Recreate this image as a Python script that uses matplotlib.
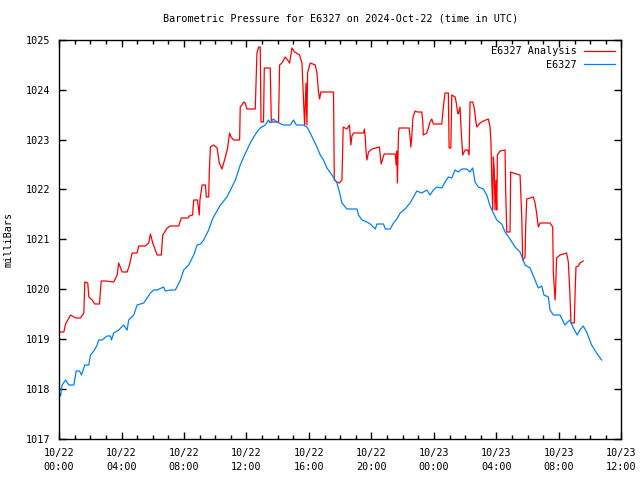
import matplotlib
matplotlib.use("Agg")
import matplotlib.pyplot as plt
from matplotlib.ticker import MultipleLocator

plt.rcParams['font.family'] = ['DejaVu Sans Mono']

title = "Barometric Pressure for E6327 on 2024-Oct-22 (time in UTC)"
ylabel = "milliBars"
xtick_hours = [0, 4, 8, 12, 16, 20, 24, 28, 32, 36]
xtick_labels = ["10/22\n00:00", "10/22\n04:00", "10/22\n08:00", "10/22\n12:00",
                "10/22\n16:00", "10/22\n20:00", "10/23\n00:00", "10/23\n04:00",
                "10/23\n08:00", "10/23\n12:00"]
yticks = [1017, 1018, 1019, 1020, 1021, 1022, 1023, 1024, 1025]

# hours since 2024-10-22 00:00 UTC, pressure in mbar
station_t = [0, 0.1, 0.2, 0.42, 0.63, 0.95, 1.1, 1.31, 1.44, 1.65, 1.91, 2.01, 2.23, 2.44,
             2.54, 2.76, 3.08, 3.29, 3.36, 3.5, 3.82, 4.14, 4.36, 4.46, 4.78, 5.0, 5.42,
             5.64, 5.85, 6.06, 6.28, 6.7, 6.8, 7.13, 7.45, 7.77, 7.98, 8.3, 8.62, 8.84,
             9.05, 9.26, 9.58, 9.8, 9.96, 10.33, 10.75, 11.07, 11.29, 11.6, 11.82, 12.03,
             12.24, 12.46, 12.67, 12.88, 13.2, 13.41, 13.52, 13.71, 13.95, 14.37, 14.8,
             15.01, 15.19, 15.65, 15.87, 16.08, 16.29, 16.51, 16.72, 16.93, 17.15, 17.47,
             17.79, 17.95, 18.11, 18.43, 19.07, 19.17, 19.39, 19.71, 19.92, 20.24, 20.35,
             20.77, 20.88, 21.2, 21.41, 21.62, 21.84, 22.15, 22.47, 22.69, 22.9, 23.22,
             23.54, 23.75, 23.96, 24.18, 24.5, 24.71, 24.92, 25.14, 25.35, 25.56, 25.78,
             26.1, 26.31, 26.48, 26.63, 26.84, 27.16, 27.38, 27.59, 27.8, 28.02, 28.34,
             28.55, 28.87, 29.19, 29.51, 29.83, 30.15, 30.47, 30.68, 30.9, 31.04, 31.32,
             31.43, 31.64, 32.07, 32.38, 32.7, 32.92, 33.17, 33.34, 33.55, 33.77, 34.09,
             34.41, 34.73]
station_p = [1017.95, 1017.87, 1018.09, 1018.19, 1018.09, 1018.09, 1018.37, 1018.37,
             1018.29, 1018.49, 1018.49, 1018.69, 1018.77, 1018.89, 1018.99, 1018.99,
             1019.07, 1019.07, 1018.99, 1019.13, 1019.19, 1019.29, 1019.19, 1019.39,
             1019.49, 1019.69, 1019.73, 1019.83, 1019.93, 1019.99, 1019.99, 1020.05,
             1019.97, 1019.99, 1019.99, 1020.19, 1020.39, 1020.49, 1020.69, 1020.89,
             1020.91, 1020.99, 1021.19, 1021.39, 1021.49, 1021.69, 1021.85, 1022.05,
             1022.19, 1022.49, 1022.65, 1022.79, 1022.93, 1023.05, 1023.15, 1023.23,
             1023.29, 1023.39, 1023.33, 1023.41, 1023.35, 1023.29, 1023.29, 1023.39,
             1023.29, 1023.29, 1023.25, 1023.13, 1022.99, 1022.85, 1022.69, 1022.59,
             1022.43, 1022.29, 1022.13, 1021.95, 1021.73, 1021.61, 1021.61, 1021.49,
             1021.39, 1021.35, 1021.31, 1021.21, 1021.31, 1021.31, 1021.21, 1021.21,
             1021.33, 1021.41, 1021.53, 1021.61, 1021.73, 1021.85, 1021.97, 1021.93,
             1021.99, 1021.89, 1021.99, 1022.05, 1022.03, 1022.15, 1022.25, 1022.23,
             1022.39, 1022.35, 1022.41, 1022.41, 1022.35, 1022.43, 1022.15, 1022.05,
             1022.01, 1021.89, 1021.67, 1021.53, 1021.39, 1021.31, 1021.15, 1021.01,
             1020.85, 1020.75, 1020.49, 1020.43, 1020.19, 1020.03, 1020.07, 1019.89,
             1019.85, 1019.59, 1019.49, 1019.49, 1019.29, 1019.39, 1019.23, 1019.09,
             1019.19, 1019.27, 1019.15, 1018.89, 1018.73, 1018.59]

analysis_t = [0, 0.31, 0.42, 0.63, 0.74, 0.95, 1.1, 1.37, 1.59, 1.65, 1.84, 1.91, 2.12,
              2.29, 2.59, 2.7, 2.97, 3.5, 3.72, 3.82, 4.04, 4.36, 4.51, 4.68, 5.0, 5.1,
              5.53, 5.74, 5.85, 6.0, 6.28, 6.55, 6.64, 6.92, 7.13, 7.66, 7.83, 8.26, 8.34,
              8.55, 8.62, 8.86, 8.98, 9.02, 9.16, 9.37, 9.43, 9.58, 9.62, 9.69, 9.9, 10.12,
              10.26, 10.43, 10.54, 10.65, 10.79, 10.92, 11.01, 11.18, 11.56, 11.6, 11.71,
              11.82, 11.92, 12.03, 12.56, 12.61, 12.67, 12.78, 12.88, 12.93, 13.09, 13.14,
              13.52, 13.59, 14.05, 14.12, 14.27, 14.48, 14.63, 14.76, 14.91, 15.08, 15.4,
              15.55, 15.65, 15.72, 15.81, 15.87, 15.91, 16.08, 16.4, 16.51, 16.61, 16.68,
              16.76, 17.57, 17.62, 17.79, 17.95, 18.11, 18.15, 18.19, 18.43, 18.59, 18.68,
              18.75, 18.85, 19.49, 19.55, 19.6, 19.66, 19.71, 19.81, 20.03, 20.51, 20.56,
              20.62, 20.73, 20.81, 21.52, 21.58, 21.62, 21.66, 21.73, 21.77, 22.41, 22.47,
              22.52, 22.58, 22.65, 22.79, 22.94, 23.22, 23.29, 23.32, 23.54, 23.64, 23.75,
              23.86, 23.96, 24.5, 24.6, 24.71, 24.92, 24.97, 25.08, 25.14, 25.35, 25.42,
              25.52, 25.56, 25.67, 25.74, 25.84, 25.99, 26.16, 26.25, 26.31, 26.48, 26.58,
              26.67, 26.74, 26.95, 27.16, 27.48, 27.59, 27.65, 27.7, 27.76, 27.8, 27.86,
              27.91, 27.97, 28.02, 28.06, 28.23, 28.55, 28.59, 28.66, 28.87, 28.91, 29.08,
              29.3, 29.51, 29.62, 29.68, 29.83, 29.87, 29.94, 30.15, 30.36, 30.47, 30.57,
              30.68, 30.79, 31.43, 31.6, 31.64, 31.75, 31.79, 31.85, 32.07, 32.49, 32.6,
              32.7, 32.77, 32.98, 33.03, 33.09, 33.24, 33.34, 33.55]
analysis_p = [1019.15, 1019.15, 1019.31, 1019.43, 1019.49, 1019.45, 1019.43, 1019.43,
              1019.53, 1020.15, 1020.13, 1019.85, 1019.79, 1019.71, 1019.71, 1020.17,
              1020.17, 1020.15, 1020.29, 1020.53, 1020.35, 1020.35, 1020.49, 1020.73,
              1020.73, 1020.87, 1020.87, 1020.93, 1021.11, 1020.93, 1020.69, 1020.69,
              1021.09, 1021.23, 1021.27, 1021.27, 1021.43, 1021.43, 1021.47, 1021.49,
              1021.79, 1021.79, 1021.49, 1021.79, 1022.09, 1022.09, 1021.85, 1021.85,
              1022.35, 1022.85, 1022.89, 1022.83, 1022.53, 1022.41, 1022.53, 1022.65,
              1022.83, 1023.13, 1023.05, 1022.99, 1022.99, 1023.65, 1023.69, 1023.75,
              1023.73, 1023.61, 1023.61, 1024.15, 1024.73, 1024.85, 1024.85, 1023.35,
              1023.35, 1024.43, 1024.43, 1023.35, 1023.35, 1024.49, 1024.53, 1024.65,
              1024.59, 1024.53, 1024.83, 1024.75, 1024.69, 1024.53, 1023.79, 1023.29,
              1024.13, 1023.29, 1024.33, 1024.53, 1024.49, 1024.33, 1023.95, 1023.81,
              1023.95, 1023.95, 1022.19, 1022.15, 1022.13, 1022.19, 1022.73, 1023.25,
              1023.21, 1023.29, 1022.89, 1023.07, 1023.13, 1023.13, 1023.21, 1023.05,
              1022.73, 1022.59, 1022.75, 1022.81, 1022.85, 1022.69, 1022.51, 1022.63,
              1022.71, 1022.71, 1022.49, 1022.77, 1022.13, 1023.13, 1023.23, 1023.23,
              1023.05, 1022.85, 1023.05, 1023.43, 1023.57, 1023.55, 1023.55, 1023.33,
              1023.09, 1023.13, 1023.23, 1023.35, 1023.41, 1023.31, 1023.31, 1023.65,
              1023.93, 1023.93, 1022.83, 1022.83, 1023.89, 1023.85, 1023.75, 1023.53,
              1023.51, 1023.65, 1023.19, 1022.69, 1022.79, 1022.79, 1022.69, 1023.75,
              1023.75, 1023.63, 1023.39, 1023.25, 1023.33, 1023.37, 1023.41, 1023.25,
              1022.93, 1022.19, 1021.59, 1022.65, 1022.39, 1021.59, 1022.19, 1021.59,
              1022.69, 1022.77, 1022.79, 1021.99, 1021.15, 1021.15, 1022.35, 1022.33,
              1022.31, 1022.29, 1021.45, 1020.59, 1020.65, 1021.25, 1021.81, 1021.83,
              1021.85, 1021.73, 1021.53, 1021.25, 1021.33, 1021.33, 1021.25, 1020.35,
              1019.79, 1020.05, 1020.63, 1020.69, 1020.73, 1020.55, 1019.93, 1019.33,
              1019.33, 1019.89, 1020.45, 1020.47, 1020.53, 1020.57]

fig = plt.figure(figsize=(6.4, 4.8), dpi=100)
ax = fig.add_axes([0.0922, 0.0844, 0.8788, 0.8333])

ax.plot(analysis_t, analysis_p, color='#ff0000', lw=0.9, label='E6327 Analysis')
ax.plot(station_t, station_p, color='#0080ff', lw=0.9, label='E6327')

ax.set_xlim(0, 36)
ax.set_ylim(1017, 1025)
ax.set_xticks(xtick_hours)
ax.set_xticklabels(xtick_labels, fontsize=7.3, linespacing=1.55)
ax.xaxis.set_minor_locator(MultipleLocator(1))
ax.set_yticks(yticks)
ax.set_yticklabels([str(v) for v in yticks], fontsize=7.3)
ax.tick_params(axis='both', which='major', direction='in', length=5, width=1,
               top=True, right=True, pad=6)
ax.tick_params(axis='x', which='minor', direction='in', length=3, width=1,
               top=True, bottom=True)
for s in ax.spines.values():
    s.set_linewidth(1)

ax.set_title(title, fontsize=7.3, pad=13)
ax.set_ylabel(ylabel, fontsize=7.3, labelpad=9)

ax.legend(loc='upper right', frameon=False, markerfirst=False, fontsize=7.3,
          handlelength=3.0, handletextpad=0.8, labelspacing=0.35,
          borderaxespad=0.25)

fig.savefig('out.png', dpi=100)
